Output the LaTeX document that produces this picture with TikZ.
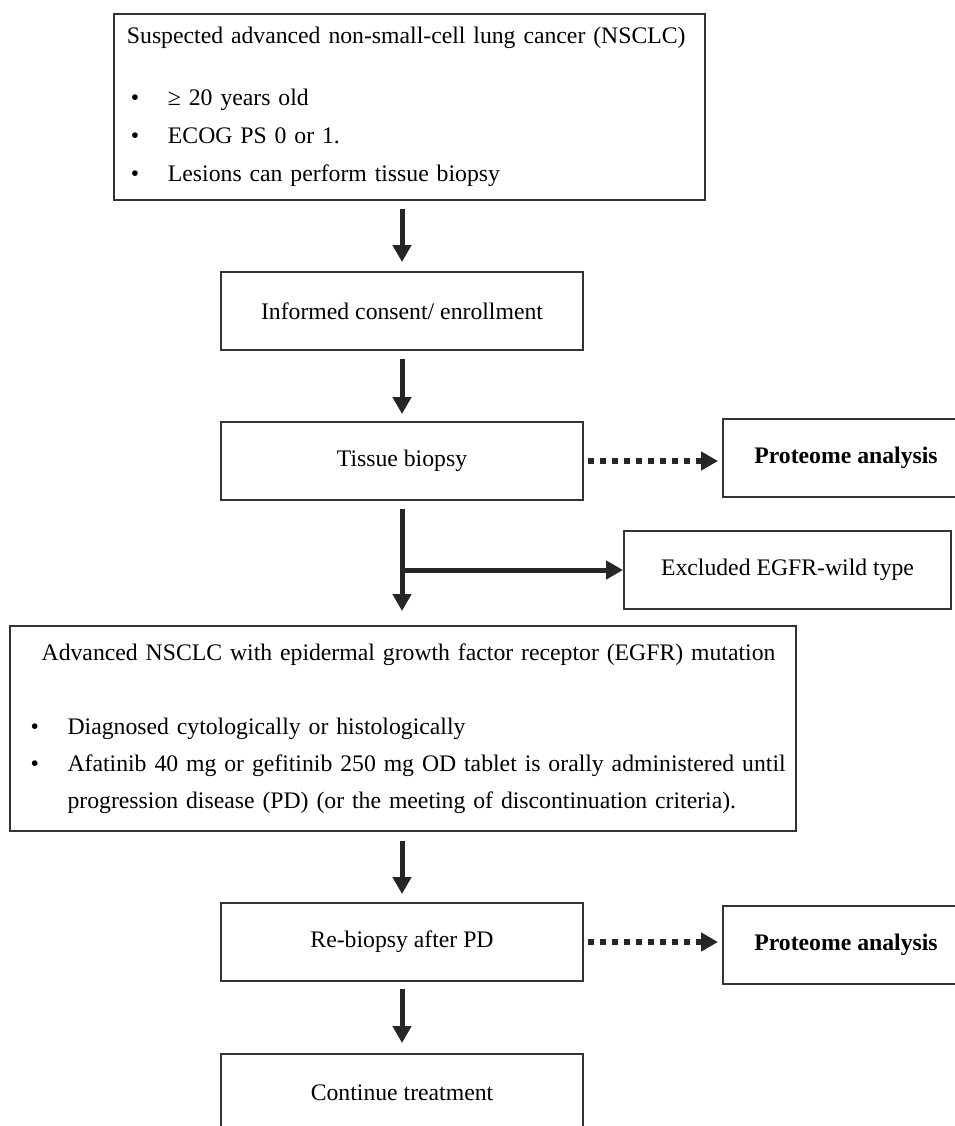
\documentclass[tikz,border=0pt]{standalone}
\usepackage{fontspec}
\setmainfont{Liberation Serif}
\usetikzlibrary{arrows.meta, positioning, calc}

\begin{document}
\begin{tikzpicture}[x=0.02cm, y=-0.02cm,
  font=\fontsize{13.5}{21.6}\selectfont,
  box/.style={draw=black!80, line width=1.1pt, minimum width=7.24cm, minimum height=1.56cm, inner sep=0pt},
  thickarr/.style={line width=0.1cm, black!85, -{Triangle[width=0.36cm,length=0.34cm]}},
  dotarr/.style={line width=0.12cm, black!85, dash pattern=on 0.12cm off 0.12cm, -{Triangle[width=0.36cm,length=0.34cm]}}]
  \useasboundingbox (0,0) rectangle (955,1126);
  \clip (0,0) rectangle (955,1126);

  % screening box
  \node[box, anchor=north west, text width=11.3cm, align=left, inner xsep=0.26cm, minimum height=3.72cm] (susp) at (113,13)
    {Suspected advanced non-small-cell lung cancer (NSCLC)\\[0.48cm]
     \hspace*{0.08cm}\makebox[0.74cm][l]{•}≥ 20 years old\\
     \hspace*{0.08cm}\makebox[0.74cm][l]{•}ECOG PS 0 or 1.\\
     \hspace*{0.08cm}\makebox[0.74cm][l]{•}Lesions can perform tissue biopsy};

  % main column
  \node[box] (cons) at (402,311) {Informed consent/ enrollment};
  \node[box] (tis) at (402,461) {Tissue biopsy};
  \node[box, text width=14.9cm, align=left, inner xsep=0.42cm, minimum height=4.1cm,
        font=\fontsize{13.5}{21}\selectfont] (adv) at (403,728.5)
    {\hspace*{\fill}Advanced NSCLC with epidermal growth factor receptor (EGFR) mutation\hspace*{\fill}\\[0.74cm]
     \mbox{\makebox[0.74cm][l]{•}Diagnosed cytologically or histologically}\\
     \mbox{\makebox[0.74cm][l]{•}Afatinib 40 mg or gefitinib 250 mg OD tablet is orally administered until}\\
     \mbox{\hspace*{0.74cm}progression disease (PD) (or the meeting of discontinuation criteria).}};
  \node[box] (rebio) at (402,942) {Re-biopsy after PD};
  \node[box] (cont) at (402,1093) {Continue treatment};

  % side boxes
  \node[box, minimum width=4.92cm, font=\fontsize{13.5}{21.6}\selectfont\bfseries] (prot1) at (846,458) {Proteome analysis};
  \node[box, minimum width=6.54cm] (excl) at (787.5,570) {Excluded EGFR-wild type};
  \node[box, minimum width=4.92cm, font=\fontsize{13.5}{21.6}\selectfont\bfseries] (prot2) at (846,945) {Proteome analysis};

  % arrows
  \draw[thickarr, shorten <=0.16cm, shorten >=0.18cm] (cons.north |- susp.south) -- (cons.north);
  \draw[thickarr, shorten <=0.16cm, shorten >=0.14cm] (cons) -- (tis);
  \draw[thickarr, shorten <=0.16cm, shorten >=0.28cm] (tis) -- (tis.south |- adv.north);
  \draw[thickarr] (tis.south |- excl.west) -- (excl.west);
  \draw[thickarr, shorten <=0.18cm, shorten >=0.16cm] (rebio.north |- adv.south) -- (rebio.north);
  \draw[thickarr, shorten <=0.14cm, shorten >=0.2cm] (rebio) -- (cont);
  \draw[dotarr, shorten <=0.08cm, shorten >=0.08cm] (tis.east) -- (tis.east -| prot1.west);
  \draw[dotarr, shorten <=0.08cm, shorten >=0.08cm] (rebio.east) -- (rebio.east -| prot2.west);
\end{tikzpicture}
\end{document}
